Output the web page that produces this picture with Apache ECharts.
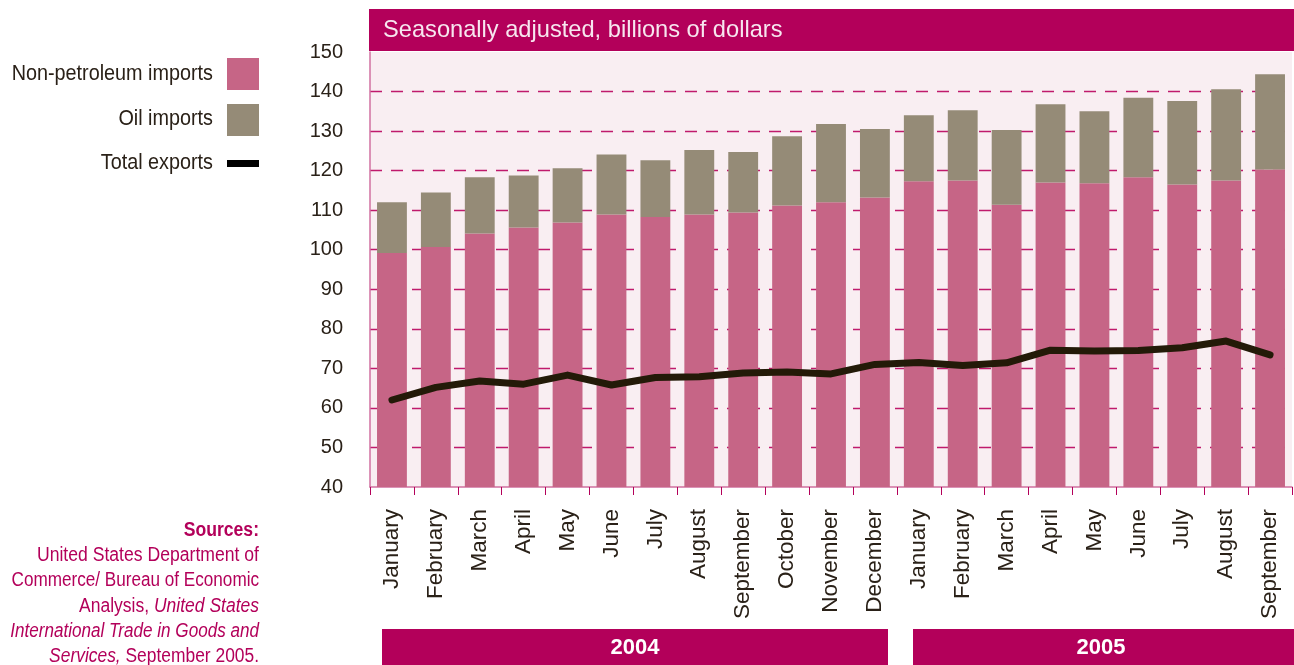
<!DOCTYPE html>
<html><head><meta charset="utf-8">
<script src="https://cdn.jsdelivr.net/npm/echarts@6/dist/echarts.min.js"></script>
<style>html,body{margin:0;padding:0;background:#fff}#c{width:1294px;height:665px}</style>
</head><body><div id="c"></div>
<script>
const months = ['January','February','March','April','May','June','July','August','September','October','November','December',
  'January','February','March','April','May','June','July','August','September'];
const nonPetroleumImports = [99.2,100.7,104.1,105.6,106.9,108.9,108.3,108.9,109.4,111.2,112.0,113.2,117.3,117.5,111.4,117.0,116.8,118.3,116.5,117.5,120.3];
const oilImports = [12.8,13.8,14.2,13.2,13.7,15.2,14.3,16.3,15.3,17.5,19.8,17.3,16.7,17.8,18.9,19.8,18.2,20.1,21.1,23.1,24.1];
const totalExports = [62.0,65.2,66.8,66.0,68.3,65.8,67.7,67.9,68.8,69.1,68.6,71.0,71.5,70.7,71.4,74.6,74.4,74.5,75.2,76.9,73.4];
const years = ['2004','2005'];
const seriesNames = ['Non-petroleum imports','Oil imports','Total exports'];
const chartTitle = 'Seasonally adjusted, billions of dollars';

const C_PINK = '#c66586', C_OIL = '#958b77', C_LINE = '#231a08', C_MAG = '#b3005a', C_TXT = '#2a2118';
const SANS = "'Liberation Sans',Arial,sans-serif";

const chart = echarts.init(document.getElementById('c'), null, {renderer:'canvas'});
const legendY = [74, 119, 163];
const srcLines = [
  {t:'United States Department of', y:555, s:0.88},
  {t:'Commerce/ Bureau of Economic', y:580, s:0.856},
  {t:'{n|Analysis, }{i|United States}', y:606, s:0.875},
  {t:'{i|International Trade in Goods and}', y:631, s:0.855},
  {t:'{i|Services,}{n| September 2005.}', y:656, s:0.87}
];
function legText(i){
  return {type:'text', x:213, y:legendY[i], scaleX:0.9,
    style:{text:seriesNames[i], fill:C_TXT, font:"22px "+SANS, textAlign:'right', textVerticalAlign:'middle'}};
}
const graphic = [
  {type:'rect', shape:{x:369,y:9,width:925,height:42}, style:{fill:C_MAG}, z:10},
  {type:'text', x:383, y:30, scaleX:0.985, style:{text:chartTitle, fill:'#f7e6ef', font:"24px "+SANS, textVerticalAlign:'middle'}, z:11},
  {type:'rect', shape:{x:382,y:629,width:506,height:36}, style:{fill:C_MAG}},
  {type:'text', x:635, y:648, style:{text:years[0], fill:'#fff', font:"bold 22px "+SANS, textAlign:'center', textVerticalAlign:'middle'}},
  {type:'rect', shape:{x:913,y:629,width:381,height:36}, style:{fill:C_MAG}},
  {type:'text', x:1101, y:648, style:{text:years[1], fill:'#fff', font:"bold 22px "+SANS, textAlign:'center', textVerticalAlign:'middle'}},
  legText(0),
  {type:'rect', shape:{x:227,y:58,width:32,height:32}, style:{fill:C_PINK}},
  legText(1),
  {type:'rect', shape:{x:227,y:104,width:32,height:32}, style:{fill:C_OIL}},
  legText(2),
  {type:'rect', shape:{x:227,y:160,width:32,height:7}, style:{fill:'#000'}},
  {type:'text', x:259, y:530, scaleX:0.88, style:{text:'Sources:', fill:C_MAG, font:"bold 20px "+SANS, textAlign:'right', textVerticalAlign:'middle'}}
];
srcLines.forEach(l => {
  graphic.push({type:'text', x:259, y:l.y, scaleX:l.s, style:{
    text:l.t, fill:C_MAG, font:"20px "+SANS, textAlign:'right', textVerticalAlign:'middle',
    rich:{n:{fontFamily:SANS, fontSize:20, fill:C_MAG}, i:{fontFamily:SANS, fontSize:20, fontStyle:'italic', fill:C_MAG}}
  }});
});

chart.setOption({
  animation:false,
  backgroundColor:'#fff',
  grid:{left:370, right:2, top:52, bottom:178, show:true, backgroundColor:'#f9eef2', borderWidth:0},
  xAxis:{type:'category', data:months, boundaryGap:true,
    axisLine:{lineStyle:{color:'#d070a0', width:1.5}},
    axisTick:{show:true, length:8, interval:0, lineStyle:{color:C_MAG}},
    axisLabel:{rotate:90, interval:0, margin:22, fontSize:22.5, fontFamily:SANS, color:C_TXT},
    splitLine:{show:false}},
  yAxis:{type:'value', min:40, max:150, interval:10,
    axisLine:{show:true, lineStyle:{color:'#d070a0', width:1.5}},
    axisTick:{show:false},
    axisLabel:{margin:27, fontSize:20, fontFamily:SANS, color:C_TXT},
    splitLine:{show:true, showMinLine:false, showMaxLine:false, lineStyle:{type:[12,9], width:1.3, color:'#c01a6c'}}},
  series:[
    {name:seriesNames[0], type:'bar', stack:'imp', data:nonPetroleumImports, barCategoryGap:'32%', itemStyle:{color:C_PINK}},
    {name:seriesNames[1], type:'bar', stack:'imp', data:oilImports, itemStyle:{color:C_OIL}},
    {name:seriesNames[2], type:'line', data:totalExports, symbol:'none', z:5,
      lineStyle:{color:C_LINE, width:7, cap:'round', join:'round'}}
  ],
  graphic:graphic
});
</script>
</body></html>
